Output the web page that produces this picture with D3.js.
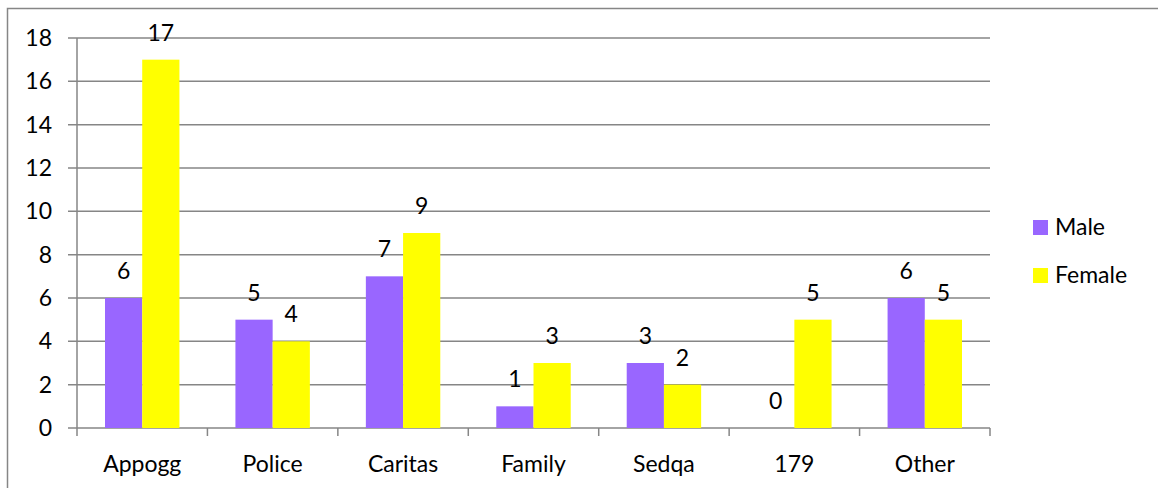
<!DOCTYPE html>
<html>
<head>
<meta charset="utf-8">
<script src="https://cdn.jsdelivr.net/npm/d3@7"></script>
<style>
body { margin: 0; background: #fff; }
text { font-family: Lato, "Open Sans", sans-serif; fill: #000; }
</style>
</head>
<body>
<script>
// chart data
var categories = ["Appogg", "Police", "Caritas", "Family", "Sedqa", "179", "Other"]
var seriesNames = ["Male", "Female"]
var male = [6, 5, 7, 1, 3, 0, 6]
var female = [17, 4, 9, 3, 2, 5, 5]
var yTicks = [0, 2, 4, 6, 8, 10, 12, 14, 16, 18]
var colors = ["#9966ff", "#ffff00"]

var width = 1158, height = 488
var plotLeft = 77, plotRight = 990, plotTop = 38, plotBottom = 428
var fs = 23

var svg = d3.select("body").append("svg")
    .attr("width", width)
    .attr("height", height)

// outer frame (runs off the right and bottom edge)
svg.append("rect")
    .attr("x", 7.5).attr("y", 8.5)
    .attr("width", 1200).attr("height", 600)
    .attr("fill", "none")
    .attr("stroke", "#868686")
    .attr("stroke-width", 1.5)

var x = d3.scaleBand().domain(categories).range([plotLeft, plotRight])
var sub = d3.scaleBand().domain(seriesNames).range([28, x.bandwidth() - 28])
var y = d3.scaleLinear().domain([0, 18]).range([plotBottom, plotTop])

// gridlines
svg.append("g").selectAll("line")
    .data(yTicks)
    .enter()
    .append("line")
    .attr("x1", plotLeft - 9).attr("x2", plotRight)
    .attr("y1", d => y(d)).attr("y2", d => y(d))
    .attr("stroke", "#868686")
    .attr("stroke-width", 1.5)

// y tick labels
svg.append("g").selectAll("text")
    .data(yTicks)
    .enter()
    .append("text")
    .attr("x", 52)
    .attr("y", d => y(d) + 8)
    .attr("text-anchor", "end")
    .attr("font-size", fs)
    .text(d => d)

// bars
var rows = categories.map((c, i) => ({cat: c, values: [male[i], female[i]]}))
var groups = svg.append("g").selectAll("g")
    .data(rows)
    .enter()
    .append("g")
    .attr("transform", d => "translate(" + x(d.cat) + ",0)")

groups.selectAll("rect")
    .data(d => d.values.map((v, j) => ({name: seriesNames[j], v: v, j: j})))
    .enter()
    .append("rect")
    .attr("x", d => sub(d.name))
    .attr("y", d => y(d.v))
    .attr("width", sub.bandwidth())
    .attr("height", d => plotBottom - y(d.v))
    .attr("fill", d => colors[d.j])

groups.selectAll("text")
    .data(d => d.values.map((v, j) => ({name: seriesNames[j], v: v, j: j})))
    .enter()
    .append("text")
    .attr("x", d => sub(d.name) + sub.bandwidth() / 2)
    .attr("y", d => y(d.v) - 19)
    .attr("text-anchor", "middle")
    .attr("font-size", fs)
    .text(d => d.v)

// y axis line and x axis
svg.append("line")
    .attr("x1", plotLeft).attr("x2", plotLeft)
    .attr("y1", plotTop).attr("y2", plotBottom)
    .attr("stroke", "#868686").attr("stroke-width", 1.5)

var xAxis = svg.append("g").attr("transform", "translate(0," + plotBottom + ")")
xAxis.selectAll("line")
    .data(d3.range(categories.length + 1))
    .enter()
    .append("line")
    .attr("x1", i => plotLeft + i * x.bandwidth())
    .attr("x2", i => plotLeft + i * x.bandwidth())
    .attr("y1", 0).attr("y2", 8)
    .attr("stroke", "#868686").attr("stroke-width", 1.5)

xAxis.selectAll("text")
    .data(categories)
    .enter()
    .append("text")
    .attr("x", d => x(d) + x.bandwidth() / 2)
    .attr("y", 44)
    .attr("text-anchor", "middle")
    .attr("font-size", fs)
    .text(d => d)

// legend
var legend = svg.append("g").selectAll("g")
    .data(seriesNames)
    .enter()
    .append("g")
    .attr("transform", (d, i) => "translate(1033," + (220 + i * 48) + ")")

legend.append("rect")
    .attr("width", 15).attr("height", 15)
    .attr("fill", (d, i) => colors[i])

legend.append("text")
    .attr("x", 22).attr("y", 15)
    .attr("font-size", fs)
    .text(d => d)
</script>
</body>
</html>
